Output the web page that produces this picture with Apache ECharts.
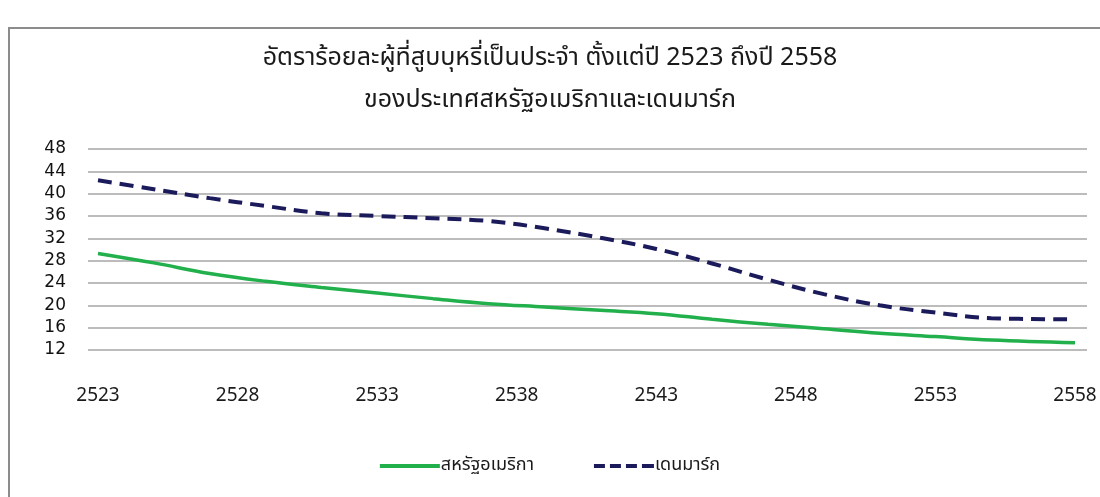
<!DOCTYPE html>
<html>
<head>
<meta charset="utf-8">
<script src="https://cdn.jsdelivr.net/npm/echarts@6/dist/echarts.min.js"></script>
<style>html,body{margin:0;padding:0;background:#fff}#c{width:1100px;height:497px}</style>
</head>
<body>
<div id="c"></div>
<script>
const titleText = 'อัตราร้อยละผู้ที่สูบบุหรี่เป็นประจำ ตั้งแต่ปี 2523 ถึงปี 2558\nของประเทศสหรัฐอเมริกาและเดนมาร์ก';
const seriesNames = ['สหรัฐอเมริกา', 'เดนมาร์ก'];
const years = [2523, 2525, 2527, 2529, 2531, 2533, 2535, 2537, 2539, 2541, 2543, 2545, 2547, 2549, 2551, 2553, 2555, 2558];
const usaValues = [29.3, 27.6, 25.7, 24.3, 23.2, 22.2, 21.2, 20.3, 19.7, 19.1, 18.5, 17.5, 16.6, 15.8, 15.0, 14.4, 13.8, 13.3];
const denmarkValues = [42.4, 40.8, 39.2, 37.8, 36.5, 36.0, 35.6, 35.1, 33.8, 32.1, 30.1, 27.5, 24.6, 22.0, 20.0, 18.7, 17.7, 17.5];
const yMin = 12, yMax = 48, yStep = 4;
const xMin = 2523, xMax = 2558, xStep = 5;

const chart = echarts.init(document.getElementById('c'));
const font = "'Noto Sans Thai','Tahoma','DejaVu Sans',sans-serif";
chart.setOption({
  backgroundColor: '#fff',
  animation: false,
  graphic: [{
    type: 'polyline', silent: true,
    shape: { points: [[9, 497], [9, 28], [1100, 28]] },
    style: { stroke: '#8c8c8c', lineWidth: 2, fill: null }
  }],
  title: {
    text: titleText,
    left: 'center', top: 34,
    textStyle: { fontFamily: font, fontSize: 25, fontWeight: 'normal', color: '#1a1a1a', lineHeight: 42 }
  },
  legend: {
    bottom: 17, left: 'center',
    itemWidth: 60, itemHeight: 4, itemGap: 60,
    textStyle: { fontFamily: font, fontSize: 18, color: '#1a1a1a', padding: [0, 0, 0, -4] },
    data: [
      { name: seriesNames[0], icon: 'path://M0,0h60v4h-60z' },
      { name: seriesNames[1], icon: 'path://M0,0h11v4h-11z M16,0h11v4h-11z M32,0h11v4h-11z M48,0h12v4h-12z' }
    ]
  },
  grid: [
    { left: 88, right: 13, top: 149, bottom: 147 },
    { left: 98, right: 25, top: 149, bottom: 147 }
  ],
  xAxis: [
    { type: 'value', gridIndex: 0, min: 0, max: 1, show: false },
    {
      type: 'value', gridIndex: 1, min: xMin, max: xMax, interval: xStep,
      axisLine: { show: false }, axisTick: { show: false }, splitLine: { show: false },
      axisLabel: { margin: 38, fontFamily: font, fontSize: 19, color: '#1a1a1a', formatter: v => String(v) }
    }
  ],
  yAxis: [
    {
      type: 'value', gridIndex: 0, min: yMin, max: yMax, interval: yStep,
      axisLine: { show: false }, axisTick: { show: false },
      splitLine: { lineStyle: { color: '#a6a6a6', width: 1.5 } },
      axisLabel: { margin: 22, fontFamily: "'DejaVu Sans',sans-serif", fontSize: 17, color: '#111' }
    },
    { type: 'value', gridIndex: 1, min: yMin, max: yMax, interval: yStep, show: false }
  ],
  series: [
    {
      name: seriesNames[0], type: 'line', xAxisIndex: 1, yAxisIndex: 1,
      data: years.map((y, i) => [y, usaValues[i]]),
      smooth: 0.4, symbol: 'none',
      lineStyle: { color: '#21b04b', width: 3.5 },
      itemStyle: { color: '#21b04b' }
    },
    {
      name: seriesNames[1], type: 'line', xAxisIndex: 1, yAxisIndex: 1,
      data: years.map((y, i) => [y, denmarkValues[i]]),
      smooth: 0.4, symbol: 'none',
      lineStyle: { color: '#1b1b5c', width: 4, type: [14, 8] },
      itemStyle: { color: '#1b1b5c' }
    }
  ]
});
</script>
</body>
</html>
